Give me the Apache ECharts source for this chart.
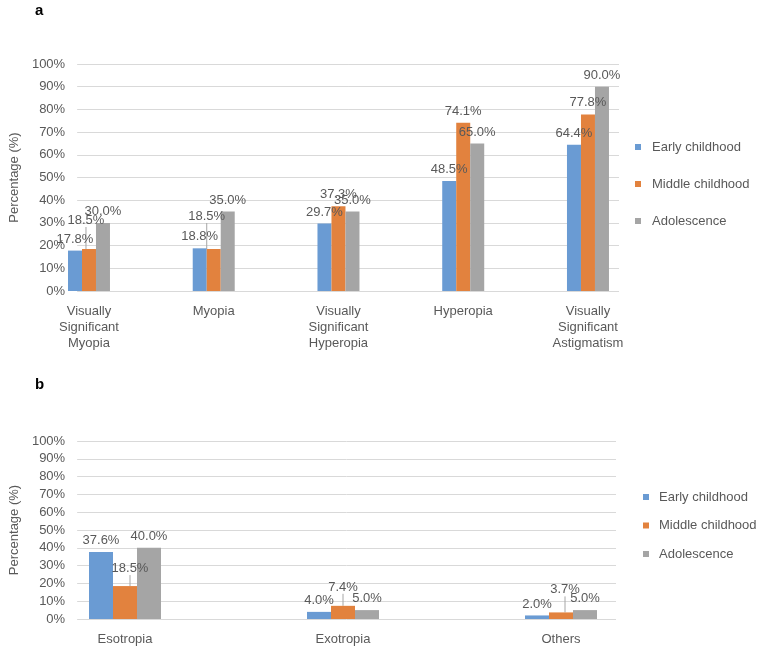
<!DOCTYPE html>
<html>
<head>
<meta charset="utf-8">
<script src="https://cdn.jsdelivr.net/npm/echarts@6/dist/echarts.min.js"></script>
<style>html,body{margin:0;padding:0;background:#fff}#c{width:758px;height:649px}</style>
</head>
<body>
<div id="c"></div>
<script>
// ---- data ----
const seriesNames = ['Early childhood', 'Middle childhood', 'Adolescence'];
const categoriesA = ['Visually\nSignificant\nMyopia', 'Myopia', 'Visually\nSignificant\nHyperopia', 'Hyperopia', 'Visually\nSignificant\nAstigmatism'];
const earlyA = [17.8, 18.8, 29.7, 48.5, 64.4];
const middleA = [18.5, 18.5, 37.3, 74.1, 77.8];
const adolA = [30.0, 35.0, 35.0, 65.0, 90.0];
const categoriesB = ['Esotropia', 'Exotropia', 'Others'];
const earlyB = [37.6, 4.0, 2.0];
const middleB = [18.5, 7.4, 3.7];
const adolB = [40.0, 5.0, 5.0];
const yMin = 0, yMax = 100, yStep = 10;

// ---- styling ----
const colors = ['#6a9bd3', '#e2823e', '#a5a5a5'];
const txt = '#595959';
const font = 'Liberation Sans, Arial, sans-serif';
// label nudges [dx, dy] per series, per category (style only)
const nudgeA = [[[-3,0],[-10,0],[-9,4],[-12,-2],[-10,0]], [[0,0],[0,0],[0,0],[0,0],[-10,0]], [[0,0],[0,0],[11,3],[13,0],[0,0]]];
const leaderA = [[null,null,null,null,null], [[-3,-17],[-7,-21],null,null,null], [null,null,null,null,null]];
const nudgeB = [[[0,0],[0,0],[0,0]], [[0,0],[0,0],[0,0]], [[0,-2],[3,0],[3,0]]];
const leaderB = [[null,null,null], [[5,-6],[0,-7],[4,-11]], [null,null,null]];

const chart = echarts.init(document.getElementById('c'), null, {renderer: 'canvas'});

function makeSeries(vals, si, xIdx, yIdx, bw, nudge, leader) {
  return {
    type: 'bar', name: seriesNames[si], xAxisIndex: xIdx, yAxisIndex: yIdx,
    barWidth: bw, barGap: '0%',
    itemStyle: {color: colors[si]},
    label: {show: true, position: 'top', distance: 5, color: txt, fontSize: 13, fontFamily: font,
      formatter: p => p.value.toFixed(1) + '%'},
    labelLine: {show: true, lineStyle: {color: '#a6a6a6', width: 1}},
    labelLayout: p => { const l = leader[si][p.dataIndex]; return l ? {dx: l[0], dy: l[1]} : {}; },
    data: vals.map((v, i) => ({value: v, label: {offset: nudge[si][i]}, labelLine: {show: !!leader[si][i]}}))
  };
}

function yLines(gi, nameGap) {
  return {gridIndex: gi, type: 'value', min: yMin, max: yMax, interval: yStep,
    axisLabel: {formatter: '{value}%', color: txt, fontSize: 13, fontFamily: font, margin: 12},
    axisLine: {show: false}, axisTick: {show: false},
    splitLine: {lineStyle: {color: '#d9d9d9', width: 1}},
    name: 'Percentage (%)', nameLocation: 'middle', nameGap: nameGap, nameRotate: 90,
    nameTextStyle: {color: txt, fontSize: 13, fontFamily: font}};
}
function yHidden(gi) {
  return {gridIndex: gi, type: 'value', min: yMin, max: yMax, interval: yStep, show: false, splitLine: {show: false}};
}
function xLines(gi) {
  return {gridIndex: gi, type: 'category', data: [''], show: false};
}
function xCats(gi, cats) {
  return {gridIndex: gi, type: 'category', data: cats, axisLine: {show: false}, axisTick: {show: false},
    axisLabel: {color: txt, fontSize: 13, fontFamily: font, lineHeight: 16, margin: 12, interval: 0}};
}

const option = {
  animation: false,
  backgroundColor: '#fff',
  title: [
    {text: 'a', left: 30, top: -2, textStyle: {fontSize: 15, fontWeight: 'bold', color: '#000', fontFamily: font}},
    {text: 'b', left: 30, top: 372, textStyle: {fontSize: 15, fontWeight: 'bold', color: '#000', fontFamily: font}}
  ],
  grid: [
    {left: 58, width: 561, top: 64, height: 227},
    {left: 26.6, width: 623.75, top: 64, height: 227},
    {left: 70, width: 546, top: 441, height: 178},
    {left: 16, width: 654, top: 441, height: 178}
  ],
  xAxis: [xLines(0), xCats(1, categoriesA), xLines(2), xCats(3, categoriesB)],
  yAxis: [yLines(0, 49), yHidden(1), yLines(2, 51), yHidden(3)],
  legend: [
    {orient: 'vertical', left: 635, top: 140, padding: 0, itemWidth: 6, itemHeight: 6, itemGap: 23, icon: 'rect',
      data: seriesNames, textStyle: {color: txt, fontSize: 13, fontFamily: font, lineHeight: 14, padding: [0,0,0,6]}},
    {orient: 'vertical', left: 643, top: 490, padding: 0, itemWidth: 6, itemHeight: 6, itemGap: 14.5, icon: 'rect',
      data: seriesNames, textStyle: {color: txt, fontSize: 13, fontFamily: font, lineHeight: 14, padding: [0,0,0,5]}}
  ],
  series: [
    makeSeries(earlyA, 0, 1, 1, 14, nudgeA, leaderA),
    makeSeries(middleA, 1, 1, 1, 14, nudgeA, leaderA),
    makeSeries(adolA, 2, 1, 1, 14, nudgeA, leaderA),
    makeSeries(earlyB, 0, 3, 3, 24, nudgeB, leaderB),
    makeSeries(middleB, 1, 3, 3, 24, nudgeB, leaderB),
    makeSeries(adolB, 2, 3, 3, 24, nudgeB, leaderB)
  ]
};
chart.setOption(option);
</script>
</body>
</html>
